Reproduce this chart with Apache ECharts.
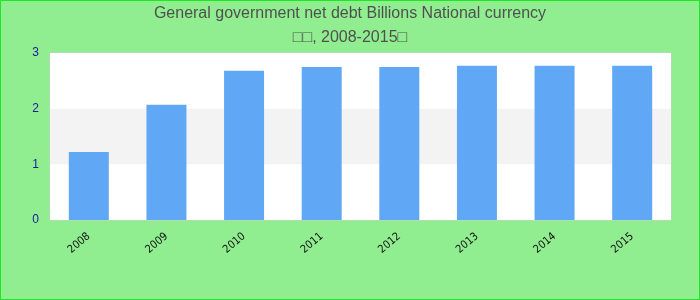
<!DOCTYPE html>
<html><head><meta charset="utf-8">
<script src="https://cdn.jsdelivr.net/npm/echarts@6/dist/echarts.min.js"></script>
<style>html,body{margin:0;padding:0;background:#90ee90;}#c{width:700px;height:300px;}</style>
</head><body><div id="c"></div>
<script>
const categories = ['2008','2009','2010','2011','2012','2013','2014','2015'];
const values = [1.22, 2.07, 2.68, 2.75, 2.75, 2.77, 2.77, 2.77];
const yTicks = [0, 1, 2, 3];
const titleText = 'General government net debt Billions National currency\n\u25A1\u25A1, 2008-2015\u25A1';

const chart = echarts.init(document.getElementById('c'), null, {renderer: 'canvas'});
chart.setOption({
  backgroundColor: '#90ee90',
  animation: false,
  title: {
    text: titleText,
    left: 'center',
    top: -3,
    textStyle: {fontFamily: 'Liberation Sans, Arial, sans-serif', fontSize: 16, fontWeight: 'normal', color: '#505050', lineHeight: 24}
  },
  graphic: [{
    type: 'rect', silent: true,
    shape: {x: 0.5, y: 0.5, width: 699, height: 299},
    style: {fill: 'none', stroke: '#1ee81e', lineWidth: 1}
  }],
  grid: {left: 50, right: 29, top: 53, bottom: 80, show: true, borderColor: '#cccccc', borderWidth: 1, backgroundColor: '#ffffff'},
  xAxis: {
    type: 'category', data: categories,
    axisLine: {show: false}, axisTick: {show: false},
    axisLabel: {rotate: 40, fontSize: 11, color: '#111', fontFamily: 'DejaVu Sans Condensed, sans-serif', margin: 15}
  },
  yAxis: {
    type: 'value', min: yTicks[0], max: yTicks[yTicks.length - 1], interval: 1,
    axisLine: {show: false}, axisTick: {show: false},
    splitLine: {show: false},
    splitArea: {show: true, areaStyle: {color: ['#ffffff', '#f3f3f3']}},
    axisLabel: {fontSize: 12, color: '#1a1a9a', fontFamily: 'Liberation Sans, Arial, sans-serif', margin: 11}
  },
  series: [{
    type: 'bar', data: values, barWidth: 40,
    itemStyle: {color: '#60a8f5'}
  }]
});
</script></body></html>
